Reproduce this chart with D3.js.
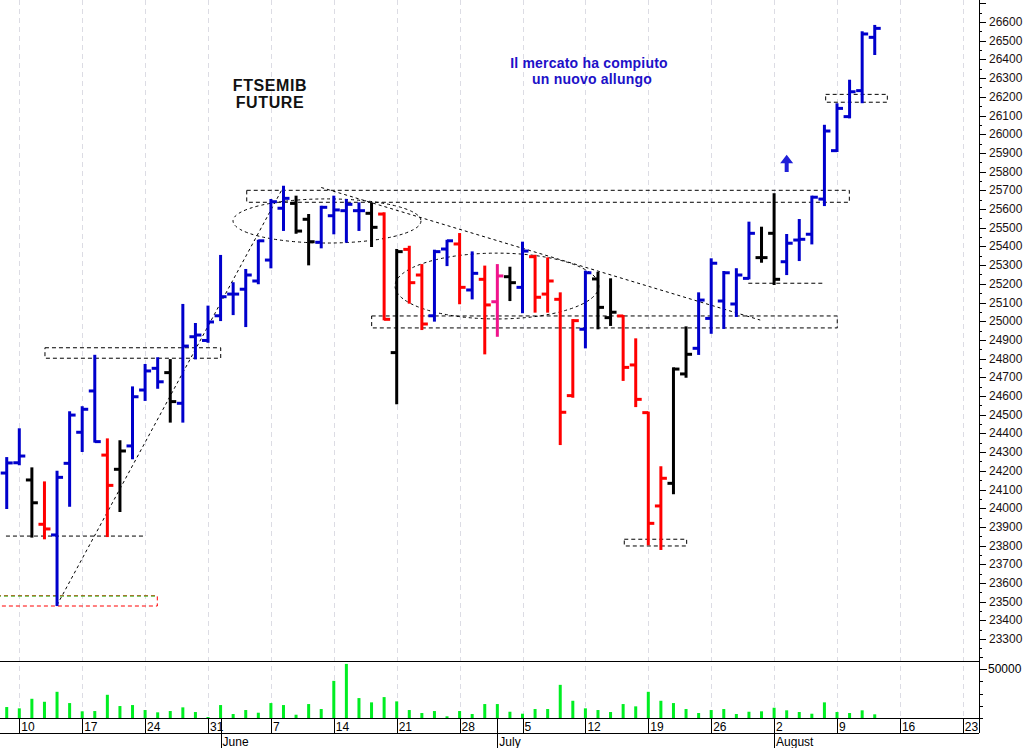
<!DOCTYPE html>
<html><head><meta charset="utf-8">
<script src="https://cdn.jsdelivr.net/npm/d3@7"></script>
<style>
body{margin:0;background:#fff}
svg{display:block;background:#fff}
text{font-family:"Liberation Sans",Arial,sans-serif}
</style>
</head><body>
<svg id="c" width="1030" height="748"></svg>
<script>
// ---------- data ----------
const dates = [
"2021-05-07",
"2021-05-10","2021-05-11","2021-05-12","2021-05-13","2021-05-14",
"2021-05-17","2021-05-18","2021-05-19","2021-05-20","2021-05-21",
"2021-05-24","2021-05-25","2021-05-26","2021-05-27","2021-05-28",
"2021-05-31","2021-06-01","2021-06-02","2021-06-03","2021-06-04",
"2021-06-07","2021-06-08","2021-06-09","2021-06-10","2021-06-11",
"2021-06-14","2021-06-15","2021-06-16","2021-06-17","2021-06-18",
"2021-06-21","2021-06-22","2021-06-23","2021-06-24","2021-06-25",
"2021-06-28","2021-06-29","2021-06-30","2021-07-01","2021-07-02",
"2021-07-05","2021-07-06","2021-07-07","2021-07-08","2021-07-09",
"2021-07-12","2021-07-13","2021-07-14","2021-07-15","2021-07-16",
"2021-07-19","2021-07-20","2021-07-21","2021-07-22","2021-07-23",
"2021-07-26","2021-07-27","2021-07-28","2021-07-29","2021-07-30",
"2021-08-02","2021-08-03","2021-08-04","2021-08-05","2021-08-06",
"2021-08-09","2021-08-10","2021-08-11","2021-08-12"];

const open  = [24188,24243,24151,23914,23857,24240,24406,24627,24284,24208,24333,24632,24748,24725,24561,24917,24897,25029,25145,25171,25215,25327,25604,25630,25545,25422,25564,25591,25591,25577,25573,24832,25384,25247,25029,25386,25413,25167,25224,25104,25238,25181,25345,25145,25117,24602,24957,25226,25019,25028,24766,24511,24012,24133,24718,24855,25015,25108,25092,25229,25340,25470,25318,25434,25465,25653,25912,26094,26233,26518];
const high  = [24268,24422,24213,24138,24195,24513,24540,24815,24368,24358,24646,24766,24802,24792,25087,24985,25078,25349,25203,25274,25430,25648,25719,25666,25568,25612,25666,25648,25630,25630,25577,25381,25398,25300,25377,25430,25466,25368,25292,25300,25286,25420,25350,25336,25149,25006,25265,25259,25224,25028,24903,24511,24219,24748,24967,25149,25331,25263,25278,25527,25500,25679,25461,25541,25666,26045,26160,26286,26545,26579];
const low   = [24001,24235,23848,23839,23482,24013,24306,24356,23851,23985,24267,24579,24644,24463,24463,24801,24890,25006,25038,24974,25203,25288,25488,25473,25304,25395,25470,25425,25488,25402,25010,24561,25099,24958,25003,25300,25096,25122,24828,24922,25113,25048,25051,25051,24343,24596,24860,24962,24980,24686,24546,23807,23782,24080,24703,24825,24938,24964,25028,25229,25318,25199,25252,25327,25416,25621,25910,26090,26171,26429];
const close = [24242,24279,24029,23889,24165,24498,24529,24356,24122,24306,24596,24734,24676,24570,24867,24926,24996,25131,25145,25247,25430,25639,25657,25482,25425,25609,25595,25625,25591,25502,25010,25372,25206,24985,25372,25430,25181,25256,25087,25242,25206,25375,25128,25215,24513,25003,25259,25074,25048,24753,24582,23919,24160,24744,24823,25113,25310,25259,25247,25470,25340,25224,25417,25438,25663,26017,26138,26227,26536,26566];
// bar colour code: b = blue, r = red, k = black, p = pink
const barColor = "bbkrbbbbrkbbbkbbbbbbbbbkkbbbbkrkrrbbrbrpkbrrrrbkkrrrrkkbbbbbkkbbbbbbbb".split("");
const volume = [18980,17920,25750,23300,31470,22240,15470,15710,29020,19800,20610,16530,14650,15710,18730,14900,10820,20610,13270,16530,14330,22240,20610,12690,21430,17350,40450,54330,26330,22820,27140,23630,16530,14080,15710,11390,15710,13270,21430,21430,15140,13510,17350,17350,37180,24120,17920,16530,14900,21430,19550,31470,24120,22240,17350,14080,16530,17350,13270,15140,15470,18410,16290,14900,13510,22820,14900,14080,16290,13020];

const weekTicks = ["2021-05-10","2021-05-17","2021-05-24","2021-05-31","2021-06-07","2021-06-14","2021-06-21","2021-06-28","2021-07-05","2021-07-12","2021-07-19","2021-07-26","2021-08-02","2021-08-09","2021-08-16","2021-08-23"];
const monthTicks = ["2021-06-01","2021-07-01","2021-08-02"];
const monthNames = ["June","July","August"];
const priceTicks = d3.range(23300, 26601, 100);
const volumeTicks = [10000,20000,30000,40000,50000,60000];

// annotations (trading-day index, price)
const boxes = [
  {i0:19.08,i1:66.98,v0:25700,v1:25636,c:"#000"},
  {i0:29.01,i1:66.02,v0:25028,v1:24964,c:"#000"},
  {i0:3.04, i1:17.01,v0:24858,v1:24802,c:"#000"},
  {i0:49.09,i1:54.05,v0:23834,v1:23798,c:"#000"},
  {i0:65.1, i1:70.0, v0:26213,v1:26171,c:"#000"},
  {i0:-3,   i1:11.97,v0:23532,v1:23477,c:"#ff0000"}
];
const hLines = [
  {i0:-0.06,i1:10.94,v:23851},
  {i0:58.95,i1:64.97,v:25203}
];
const trendLines = [
  {i0:4, v0:23482, i1:22, v1:25719},
  {i0:25, v0:25715, i1:59.9, v1:25006}
];
const ellipses = [
  {ic:25.46, vc:25536, ri:7.47, rv:118},
  {ic:38.97, vc:25188, ri:8.1, rv:176}
];

// ---------- layout ----------
const svg = d3.select("#c");
const plotRight = 979;
const t0 = new Date(dates[0] + "T00:00:00Z");
const tIndex = s => d3.utcDays(t0, new Date(s + "T00:00:00Z")).filter(d => d.getUTCDay() % 6 !== 0).length;

const x = d3.scaleLinear().domain([1, 76]).range([19.3, 962.8]);
const y = d3.scaleLinear().domain([23300, 26600]).range([639.1, 22]);
const yv = d3.scaleLinear().domain([10000, 60000]).range([718, 657]);

const colorMap = {b:"#0000cc", r:"#ff0000", k:"#000000", p:"#f0148c"};

svg.append("defs").append("clipPath").attr("id","clip")
  .append("rect").attr("x",0).attr("y",0).attr("width",plotRight).attr("height",661);
svg.append("defs").append("clipPath").attr("id","clipv")
  .append("rect").attr("x",0).attr("y",661).attr("width",plotRight).attr("height",57);

// gridlines
svg.append("g").selectAll("line").data(weekTicks).join("line")
  .attr("x1", d => Math.round(x(tIndex(d))) + 0.5).attr("x2", d => Math.round(x(tIndex(d))) + 0.5)
  .attr("y1", 0).attr("y2", 718)
  .attr("stroke", "#dcdce4").attr("stroke-width", 1).attr("stroke-dasharray", "5,4");

// annotations
const ann = svg.append("g").attr("clip-path","url(#clip)").attr("fill","none").attr("stroke-width",1).attr("stroke-dasharray","4,3");
ann.selectAll("rect").data(boxes).join("rect")
  .attr("x", d => x(d.i0)).attr("width", d => x(d.i1) - x(d.i0))
  .attr("y", d => y(d.v0)).attr("height", d => y(d.v1) - y(d.v0))
  .attr("stroke", d => d.c);
ann.append("line").attr("x1", x(-3)).attr("x2", x(11.97)).attr("y1", y(23530)).attr("y2", y(23530))
  .attr("stroke","#22cc22");
ann.selectAll("line.h").data(hLines).join("line").attr("class","h")
  .attr("x1", d => x(d.i0)).attr("x2", d => x(d.i1))
  .attr("y1", d => y(d.v)).attr("y2", d => y(d.v)).attr("stroke","#000");
ann.selectAll("line.t").data(trendLines).join("line").attr("class","t")
  .attr("x1", d => x(d.i0)).attr("x2", d => x(d.i1))
  .attr("y1", d => y(d.v0)).attr("y2", d => y(d.v1))
  .attr("stroke","#000").attr("stroke-dasharray","3,3");
ann.selectAll("ellipse").data(ellipses).join("ellipse")
  .attr("cx", d => x(d.ic)).attr("cy", d => y(d.vc))
  .attr("rx", d => x(d.ic + d.ri) - x(d.ic)).attr("ry", d => y(d.vc - d.rv) - y(d.vc))
  .attr("stroke","#000").attr("stroke-dasharray","3,3");

// OHLC bars
const bars = svg.append("g").attr("clip-path","url(#clip)");
const bar = bars.selectAll("g").data(dates).join("g")
  .attr("stroke", (d,i) => colorMap[barColor[i]]).attr("stroke-width", 3);
bar.append("line")
  .attr("x1", (d,i) => x(i)).attr("x2", (d,i) => x(i))
  .attr("y1", (d,i) => y(high[i]) - 1).attr("y2", (d,i) => y(low[i]) + 1);
bar.append("line")
  .attr("x1", (d,i) => x(i) - 6).attr("x2", (d,i) => x(i))
  .attr("y1", (d,i) => y(open[i])).attr("y2", (d,i) => y(open[i]));
bar.append("line")
  .attr("x1", (d,i) => x(i)).attr("x2", (d,i) => x(i) + 6)
  .attr("y1", (d,i) => y(close[i])).attr("y2", (d,i) => y(close[i]));

// volume bars
svg.append("g").attr("clip-path","url(#clipv)").selectAll("rect").data(volume).join("rect")
  .attr("x", (d,i) => x(i) - 1.5).attr("width", 3)
  .attr("y", d => yv(d)).attr("height", d => 718 - yv(d))
  .attr("fill", "#00ee22");

// frame lines
const frame = svg.append("g").attr("stroke","#000").attr("stroke-width",1).attr("shape-rendering","crispEdges");
frame.append("line").attr("x1",0).attr("x2",plotRight).attr("y1",661).attr("y2",661);
frame.append("line").attr("x1",0).attr("x2",plotRight).attr("y1",718).attr("y2",718);
frame.append("line").attr("x1",0).attr("x2",plotRight).attr("y1",733).attr("y2",733);
frame.append("line").attr("x1",plotRight).attr("x2",plotRight).attr("y1",0).attr("y2",733);

// price axis
const pa = svg.append("g");
pa.selectAll("line.s").data(d3.range(23250, 26751, 50)).join("line").attr("class","s")
  .attr("x1", plotRight).attr("x2", d => plotRight + (d % 100 === 0 ? 7 : 3))
  .attr("y1", d => Math.round(y(d)) + 0.5).attr("y2", d => Math.round(y(d)) + 0.5)
  .attr("stroke","#000");
pa.selectAll("text").data(priceTicks).join("text")
  .attr("x", 989).attr("y", d => y(d) + 4)
  .attr("font-size", 12).attr("fill", "#1a1010").text(d => d);

// volume axis
const va = svg.append("g");
va.selectAll("line").data(volumeTicks).join("line")
  .attr("x1", plotRight).attr("x2", d => plotRight + (d === 50000 ? 8 : 4))
  .attr("y1", d => Math.round(yv(d)) + 0.5).attr("y2", d => Math.round(yv(d)) + 0.5)
  .attr("stroke","#000");
va.append("text").attr("x", 988).attr("y", yv(50000) + 4).attr("font-size", 12).text("50000");

// date axis
const da = svg.append("g");
da.selectAll("line").data(weekTicks).join("line")
  .attr("x1", d => Math.round(x(tIndex(d))) + 0.5).attr("x2", d => Math.round(x(tIndex(d))) + 0.5)
  .attr("y1", 718).attr("y2", 733).attr("stroke","#000");
da.selectAll("text").data(weekTicks).join("text")
  .attr("x", d => x(tIndex(d)) + 2).attr("y", 731)
  .attr("font-size", 12).text(d => d3.utcFormat("%-d")(new Date(d + "T00:00:00Z")));
const ma = svg.append("g");
ma.selectAll("line").data(monthTicks).join("line")
  .attr("x1", d => Math.round(x(tIndex(d))) + 0.5).attr("x2", d => Math.round(x(tIndex(d))) + 0.5)
  .attr("y1", 718).attr("y2", 748).attr("stroke","#000");
ma.selectAll("text").data(monthTicks).join("text")
  .attr("x", d => x(tIndex(d)) + 2).attr("y", 746)
  .attr("font-size", 12).text((d,i) => monthNames[i]);

// texts
const titleFont = "DejaVu Sans, Verdana, sans-serif";
svg.append("text").attr("x", 270).attr("y", 91).attr("text-anchor","middle")
  .attr("font-family",titleFont).attr("font-weight","bold").attr("font-size",16)
  .attr("letter-spacing",0.6).attr("fill","#111").text("FTSEMIB");
svg.append("text").attr("x", 270).attr("y", 108).attr("text-anchor","middle")
  .attr("font-family",titleFont).attr("font-weight","bold").attr("font-size",16)
  .attr("letter-spacing",0.6).attr("fill","#111").text("FUTURE");
svg.append("text").attr("x", 589).attr("y", 68).attr("text-anchor","middle")
  .attr("font-family",titleFont).attr("font-weight","bold").attr("font-size",14)
  .attr("letter-spacing",0.2).attr("fill","#2010c8").text("Il mercato ha compiuto");
svg.append("text").attr("x", 592).attr("y", 84).attr("text-anchor","middle")
  .attr("font-family",titleFont).attr("font-weight","bold").attr("font-size",14)
  .attr("letter-spacing",0.2).attr("fill","#2010c8").text("un nuovo allungo");

// arrow
const ax = x(62), aTop = y(25890), aMid = y(25845), aBot = y(25798);
svg.append("path")
  .attr("d", `M${ax},${aTop} L${ax+6.5},${aMid} L${ax+2},${aMid} L${ax+2},${aBot} L${ax-2},${aBot} L${ax-2},${aMid} L${ax-6.5},${aMid} Z`)
  .attr("fill","#2020d8");
</script>
</body></html>
